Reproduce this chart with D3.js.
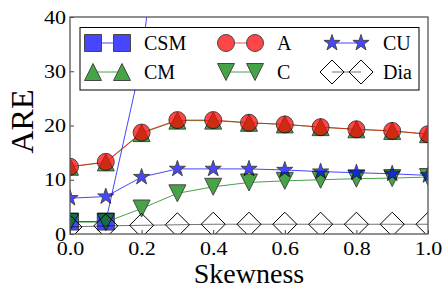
<!DOCTYPE html>
<html lang="en">
<head>
<meta charset="UTF-8">
<script src="https://d3js.org/d3.v7.min.js"></script>
<style>
  body { margin: 0; background: #fff; }
  svg text { font-family: "Liberation Serif", "Times New Roman", serif; fill: #000; }
</style>
</head>
<body>
<div id="my_dataviz"></div>
<script>
// data
var skew = [0.0, 0.1, 0.2, 0.3, 0.4, 0.5, 0.6, 0.7, 0.8, 0.9, 1.0];
var csm  = [2.3, 2.3, 32, 89];   // leaves the chart after 0.2
var cm   = [12.4, 13.2, 18.6, 20.9, 20.9, 20.5, 20.2, 19.7, 19.3, 19.0, 18.4];
var a    = [12.4, 13.3, 18.7, 21.0, 21.0, 20.5, 20.2, 19.7, 19.3, 19.0, 18.4];
var c    = [2.2, 2.2, 4.7, 7.5, 8.7, 9.5, 9.8, 10.0, 10.2, 10.3, 10.5];
var cu   = [6.6, 6.9, 10.5, 12.0, 12.0, 12.0, 11.8, 11.5, 11.3, 11.1, 10.8];
var dia  = [1.3, 1.5, 1.6, 1.7, 1.8, 1.8, 1.8, 1.8, 1.8, 1.8, 1.8];
var xTicks = [0.0, 0.2, 0.4, 0.6, 0.8, 1.0];
var yTicks = [0, 10, 20, 30, 40];

var series = [
  {name: "CSM", values: csm, color: "#0000ff", marker: "square"},
  {name: "CM",  values: cm,  color: "#008000", marker: "tri_up"},
  {name: "A",   values: a,   color: "#ff0000", marker: "circle"},
  {name: "C",   values: c,   color: "#008000", marker: "tri_down"},
  {name: "CU",  values: cu,  color: "#0000ff", marker: "star"},
  {name: "Dia", values: dia, color: "none",    marker: "diamond"}
];

var W = 443, H = 289;
var margin = {top: 17, right: 15, bottom: 55, left: 70};
var width = W - margin.left - margin.right,
    height = H - margin.top - margin.bottom;

var svg = d3.select("#my_dataviz").append("svg")
    .attr("width", W).attr("height", H)
  .append("g")
    .attr("transform", "translate(" + margin.left + "," + margin.top + ")");

var x = d3.scaleLinear().domain([0, 1]).range([0, width]);
var y = d3.scaleLinear().domain([0, 40]).range([height, 0]);

svg.append("clipPath").attr("id", "clip")
  .append("rect").attr("width", width).attr("height", height);

// marker paths, size ~17px like matplotlib markersize
var ms = 17;
function markerPath(type) {
  var h = ms / 2;
  if (type == "square") return "M" + (-h) + "," + (-h) + "h" + ms + "v" + ms + "h" + (-ms) + "Z";
  if (type == "circle") return d3.symbol().type(d3.symbolCircle).size(Math.PI * h * h)();
  if (type == "tri_up") return "M0," + (-h) + "L" + h + "," + h + "L" + (-h) + "," + h + "Z";
  if (type == "tri_down") return "M0," + h + "L" + h + "," + (-h) + "L" + (-h) + "," + (-h) + "Z";
  if (type == "diamond") { var d = ms * 0.707; return "M0," + (-d) + "L" + d + ",0L0," + d + "L" + (-d) + ",0Z"; }
  if (type == "star") {
    var pts = [];
    for (var i = 0; i < 10; i++) {
      var r = i % 2 == 0 ? h : h * 0.382;
      var ang = -Math.PI / 2 + i * Math.PI / 5;
      pts.push([r * Math.cos(ang), r * Math.sin(ang)]);
    }
    return "M" + pts.join("L") + "Z";
  }
}

// axes with inward ticks
var gx = svg.append("g").attr("transform", "translate(0," + height + ")")
  .call(d3.axisBottom(x).tickValues(xTicks).tickFormat(d3.format(".1f")).tickSizeInner(-4).tickSizeOuter(0).tickPadding(7));
var gy = svg.append("g")
  .call(d3.axisLeft(y).tickValues(yTicks).tickSizeInner(-4).tickSizeOuter(0).tickPadding(4));
[gx, gy].forEach(function(g) {
  g.select(".domain").remove();
  g.selectAll(".tick line").attr("stroke", "#444");
  g.selectAll(".tick text").style("font-size", "19px");
});
gx.selectAll(".tick text").attr("transform", "scale(1.16,1)").attr("dy", "0.72em");
gy.selectAll(".tick text").attr("x", -3.5).attr("transform", "scale(1.16,1)");

var plot = svg.append("g").attr("clip-path", "url(#clip)");

var line = d3.line()
  .x(function(d, i) { return x(skew[i]); })
  .y(function(d) { return y(d); });

series.forEach(function(s) {
  var g = plot.append("g").attr("opacity", s.marker == "diamond" ? 1 : 0.72);
  g.append("path")
    .datum(s.values)
    .attr("d", line)
    .attr("fill", "none")
    .attr("stroke", s.marker == "diamond" ? "#000" : s.color)
    .attr("stroke-opacity", s.marker == "diamond" ? 0.55 : 1)
    .attr("stroke-width", 1);
  g.selectAll(".m")
    .data(s.values)
    .enter().append("path")
      .attr("transform", function(d, i) { return "translate(" + x(skew[i]) + "," + y(d) + ")"; })
      .attr("d", markerPath(s.marker))
      .attr("fill", s.color)
      .attr("stroke", "#000")
      .attr("stroke-width", 1);
});

// frame
svg.append("rect").attr("width", width).attr("height", height)
  .attr("fill", "none").attr("stroke", "#555").attr("stroke-width", 1.3);

// legend
var leg = svg.append("g").attr("transform", "translate(10,10.5)");
leg.append("rect").attr("width", 339).attr("height", 62.5)
  .attr("fill", "#fff").attr("stroke", "#000").attr("stroke-width", 1);
var colX = [13, 146, 252], rowY = [15.5, 44.5];
series.forEach(function(s, k) {
  var cx = colX[Math.floor(k / 2)], cy = rowY[k % 2];
  var g = leg.append("g").attr("transform", "translate(" + cx + "," + cy + ")");
  var gg = g.append("g").attr("opacity", s.marker == "diamond" ? 1 : 0.72);
  gg.append("line").attr("x1", 0).attr("x2", 29)
    .attr("stroke", s.marker == "diamond" ? "#000" : s.color)
    .attr("stroke-opacity", s.marker == "diamond" ? 0.55 : 1).attr("stroke-width", 1);
  [0, 29].forEach(function(px) {
    gg.append("path").attr("transform", "translate(" + px + ",0)")
      .attr("d", markerPath(s.marker))
      .attr("fill", s.color).attr("stroke", "#000").attr("stroke-width", 1);
  });
  g.append("text").attr("x", 51).attr("y", 7).style("font-size", "20px").text(s.name);
});

// axis titles
svg.append("text")
  .attr("x", width / 2).attr("y", height + 49)
  .attr("text-anchor", "middle").style("font-size", "28px")
  .text("Skewness");
svg.append("text")
  .attr("transform", "translate(-37," + (height / 2 - 4) + ") rotate(-90)")
  .attr("text-anchor", "middle").style("font-size", "32px")
  .text("ARE");
</script>
</body>
</html>
